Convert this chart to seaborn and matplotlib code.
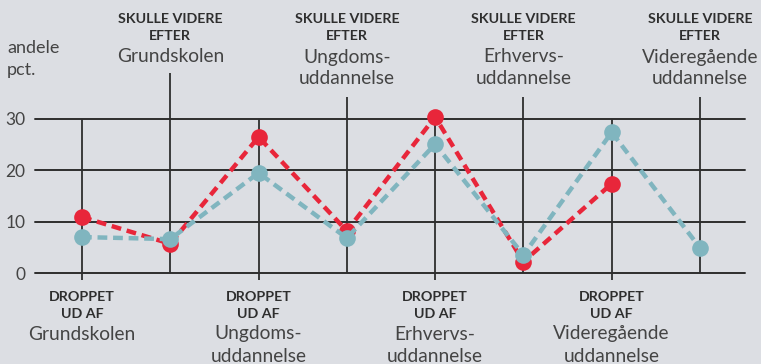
import matplotlib
matplotlib.use("Agg")
import matplotlib.pyplot as plt
import matplotlib.transforms as mtransforms
import pandas as pd
import seaborn as sns

# Transition steps along the school path
steps = [0, 1, 2, 3, 4, 5, 6, 7]
red_steps = [0, 1, 2, 3, 4, 5, 6]
red_values = [10.9, 5.7, 26.5, 8.2, 30.4, 2.2, 17.4]
teal_steps = [0, 1, 2, 3, 4, 5, 6, 7]
teal_values = [7.0, 6.6, 19.5, 6.8, 25.1, 3.5, 27.4, 4.9]

y_ticks = [0, 10, 20, 30]
top_kicker = ["SKULLE VIDERE", "EFTER"]
top_names = [["Grundskolen"], ["Ungdoms-", "uddannelse"], ["Erhvervs-", "uddannelse"],
             ["Videregående", "uddannelse"]]
bottom_kicker = ["DROPPET", "UD AF"]
bottom_names = [["Grundskolen"], ["Ungdoms-", "uddannelse"], ["Erhvervs-", "uddannelse"],
                ["Videregående", "uddannelse"]]
y_label = ["andele", "pct."]

BG = "#dcdee3"
RED = "#e8263a"
TEAL = "#80b5bf"
INK = "#2e2e2e"
SOFT = "#444444"

sns.set_theme(style="white")
plt.rcParams["font.family"] = ["Lato", "DejaVu Sans"]

W, H = 761, 364
fig = plt.figure(figsize=(W / 100, H / 100), dpi=100, facecolor=BG)
# axes spans the horizontal grid (0 at y=273 px, 30 at y=119 px)
ax = fig.add_axes([35 / W, (H - 273) / H, (745 - 35) / W, (273 - 119) / H])
ax.set_facecolor(BG)
ax.set_xlim(-0.532, 7.51)
ax.set_ylim(0, 30)

per_px = 30 / 154.0

def py(px):
    """figure pixel row (from top) -> data y"""
    return (273 - px) * per_px

# horizontal grid
for v in y_ticks:
    ax.axhline(v, color=INK, lw=1.4, zorder=1)

# vertical guides: even steps hang below, odd steps rise above
for s in steps:
    if s % 2 == 0:
        ax.vlines(s, py(280), py(119), color=INK, lw=1.3, clip_on=False, zorder=1)
    else:
        top = 73 if s == 1 else 97
        ax.vlines(s, py(273), py(top), color=INK, lw=1.3, clip_on=False, zorder=1)

red_df = pd.DataFrame({"step": red_steps, "value": red_values})
teal_df = pd.DataFrame({"step": teal_steps, "value": teal_values})

sns.lineplot(data=red_df, x="step", y="value", ax=ax, color=RED, lw=3.2,
             linestyle=(0, (2.2, 1.3)), marker="o", markersize=12,
             markeredgewidth=0, zorder=3)
sns.lineplot(data=teal_df, x="step", y="value", ax=ax, color=TEAL, lw=3.2,
             linestyle=(0, (2.2, 1.3)), marker="o", markersize=12,
             markeredgewidth=0, zorder=4)
for ln in ax.lines:
    ln.set_clip_on(False)

ax.set_xlabel("")
ax.set_ylabel("")
ax.set_xticks([])
ax.set_yticks(y_ticks)
ax.set_yticklabels([str(v) for v in y_ticks], fontsize=12.5, color=SOFT)
ax.tick_params(axis="y", length=0, pad=7)
for sp in ax.spines.values():
    sp.set_visible(False)

tr = mtransforms.blended_transform_factory(ax.transData, fig.transFigure)

def fy(px):
    return (H - px) / H

def stack(x, rows, kicker, names):
    for txt, row in zip(kicker, rows[:2]):
        ax.text(x, fy(row), txt, transform=tr, ha="center", va="center",
                fontsize=10.3, fontweight="bold", color=INK)
    for txt, row in zip(names, rows[2:]):
        ax.text(x, fy(row), txt, transform=tr, ha="center", va="center",
                fontsize=13.8, color=SOFT)

# labels above the odd steps
for i, s in enumerate([1, 3, 5, 7]):
    stack(s, [19, 36, 57, 79], top_kicker, top_names[i])

# labels below the even steps
for i, s in enumerate([0, 2, 4, 6]):
    stack(s, [297, 314, 334, 356], bottom_kicker, bottom_names[i])

for txt, row in zip(y_label, [48, 70]):
    fig.text(7 / W, fy(row), txt, ha="left", va="center", fontsize=13,
             color=SOFT)

fig.savefig("out.png", dpi=100, facecolor=BG)
